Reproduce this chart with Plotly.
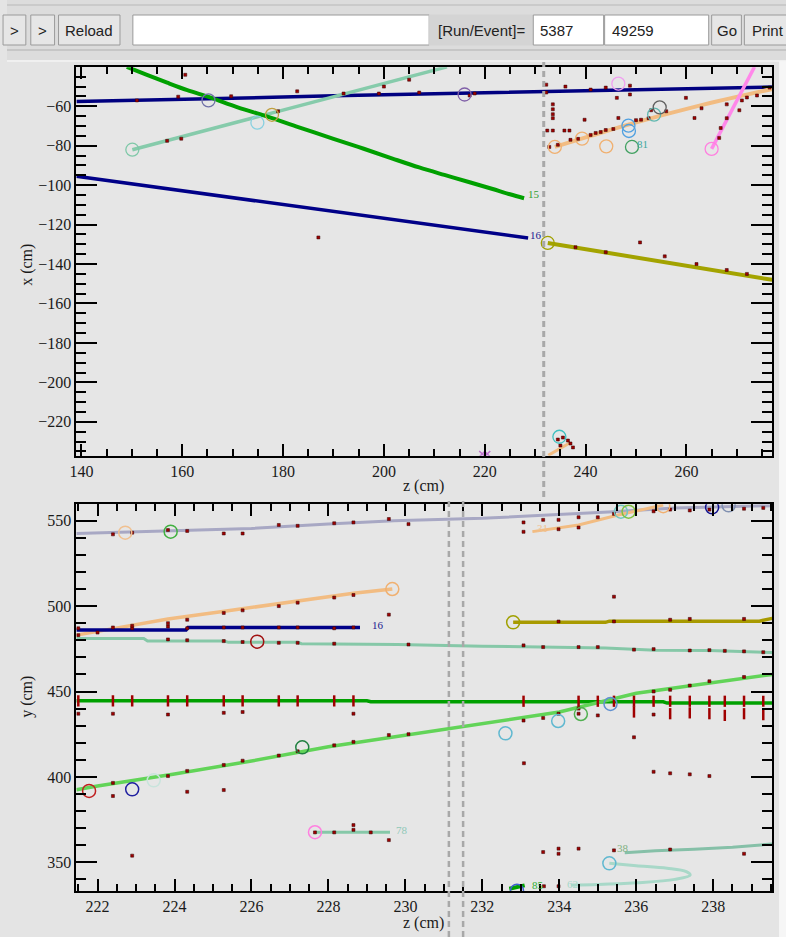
import plotly.graph_objects as go

W, H = 786, 937

# ---------------- top view (z vs x) ----------------
NAVY1_Z = [139, 152, 165, 178, 190, 203, 216, 232, 245, 260, 277]
NAVY1_X = [-57.6, -57.0, -56.2, -55.4, -54.6, -54.0, -53.3, -52.6, -51.8, -51.0, -50.2]
GREEN15_Z = [149, 153, 157, 161, 165.5, 171, 176.6, 183, 190, 196, 201.7, 207, 212, 217, 221.4, 225, 227.8]
GREEN15_X = [-40, -44, -48, -51.8, -55.5, -60.5, -65, -70.5, -76.5, -81.5, -86.5, -91, -94.8, -98.5, -101.8, -104.6, -106.6]
TEAL_Z = [150.1, 170, 192, 212.5]
TEAL_X = [-82, -68.6, -53.8, -40]
NAVY2_Z = [139, 160, 180, 200, 215, 228.6]
NAVY2_X = [-95.5, -102.8, -109.8, -116.8, -122.0, -126.8]
OLIVE_Z = [232.5, 255, 277]
OLIVE_X = [-129.3, -138.8, -148]
TAN_Z = [233.9, 241, 248.8, 262, 277]
TAN_X = [-80.6, -75, -69, -60, -51.2]
PINK_Z = [265.0, 273.5]
PINK_X = [-81.6, -40]
TANSMALL_Z = [232.6, 233.6, 234.8, 236.0, 237.0]
TANSMALL_X = [-237, -235.5, -233.5, -232.0, -230.5]

TOP_CIRC_Z = [150.1, 165.2, 174.9, 177.8, 216.0, 233.9, 239.3, 244.1, 248.5, 248.6,
              249.2, 253.6, 254.7, 246.5, 265.0, 232.5, 234.8]
TOP_CIRC_X = [-82, -57, -68.3, -64.3, -54, -80.6, -76.4, -80.3, -69.8, -72.5,
              -80.6, -64.2, -60.5, -48.5, -81.6, -129.3, -227.6]
TOP_CIRC_C = ['#7fc8a8', '#7070a8', '#88d0e0', '#c0a040', '#8060a8', '#f0b070', '#f0b070',
              '#f0b070', '#50a0e0', '#50a0e0', '#40a060', '#60b8b0', '#606060', '#f0a0f0',
              '#ff80e0', '#a0a000', '#40c0c0']

TOP_HIT_Z = [151, 160.6, 159.2, 169.7, 182.8, 199, 207, 218, 217,
             157, 159.8, 179, 192, 200, 205, 187,
             232.2, 232.2, 233.5, 233.5, 233.5, 233.5, 232.4, 233.5, 235.8, 236.8, 232.8,
             239.8, 234.5, 237, 238.5, 241, 242, 243, 244, 245.5, 246.2, 248.8, 248.8,
             246.5, 250, 251, 252.5, 253, 256, 259.9, 261.6, 263, 266.8, 268, 271, 272,
             274, 276.5, 250.8, 255.7, 262, 268, 272, 238, 244, 266.5, 268, 270.5,
             241, 236, 244, 234.5, 235.5, 236.5, 237, 237.5, 235]
TOP_HIT_X = [-57, -44, -55.1, -54.9, -52.4, -53.5, -53, -53.5, -54.5,
             -77.5, -76.4, -62.5, -53.5, -50, -46.5, -126.5,
             -49, -53, -59, -61.5, -64, -66, -72.3, -72.3, -72.3, -72.3, -80.6,
             -66.8, -79.5, -77, -76.5, -74.5, -73.5, -73, -72, -71.5, -55.7, -49.5, -54,
             -65.9, -67, -66.8, -66, -62, -62.5, -55.7, -65.9, -61, -71, -59, -57, -55.5,
             -54.5, -50.5, -129, -136.1, -140, -143, -145, -131.5, -134, -76, -66, -62,
             -51.5, -50, -50.5, -229, -228, -229.5, -231, -233, -232]
TOP_PURPLE_Z = [219.5, 220.5]
TOP_PURPLE_X = [-236.3, -236.3]

# ---------------- side view (z vs y) ----------------
LAV_Z = [221.45, 224, 226, 228, 229.7, 232, 234, 235.4, 237, 239.53]
LAV_Y = [542.5, 544, 545.5, 548, 550, 551.4, 553.5, 555.3, 557.5, 558.8]
TANB_Z = [221.45, 222.5, 223.83, 225.3, 226.71, 228.65, 229.66]
TANB_Y = [483, 487, 492.5, 497, 501.5, 507.5, 510]
NAVYB_Z = [221.45, 224.3, 224.35, 228.82]
NAVYB_Y = [486, 486, 487.5, 487.5]
TEALB_Z = [221.45, 223.2, 223.3, 225.3, 225.4, 227.2, 227.3, 229.8, 232, 235.2, 236.5, 237.9, 239.53]
TEALB_Y = [481, 481, 479.5, 479.5, 478.8, 478.8, 478, 477.5, 476.5, 475.5, 474.2, 474, 472.8]
OLIVEB_Z = [232.8, 235.2, 235.3, 239.2, 239.53]
OLIVEB_Y = [490.5, 490.5, 491.2, 491.2, 492.8]
DKGREEN_Z = [221.45, 229.0, 229.1, 236.7, 236.8, 239.53]
DKGREEN_Y = [444.6, 444.6, 444.0, 444.0, 443.2, 443.2]
LIME_Z = [221.45, 222, 224, 226, 228, 230, 232, 234, 236, 238, 239.53]
LIME_Y = [392.5, 394.7, 401.7, 409.3, 417.7, 424.5, 431.7, 438, 449, 455, 460]
T78_Z = [227.65, 229.6]
T78_Y = [367.6, 367.6]
T38_Z = [235.7, 236.5, 237.5, 238.5, 239.53]
T38_Y = [355.6, 356.8, 357.6, 358.8, 360.7]
TCURVE_Z = [235.3, 236.0, 236.8, 237.3, 237.4, 237.0, 236.0, 235.0, 234.3]
TCURVE_Y = [349.4, 348, 346.5, 344.5, 342.5, 340, 338, 337, 336.7]
T31_Z = [233.3, 234.5, 235.53, 236.7]
T31_Y = [543.6, 547.5, 553.3, 559.2]
T85_Z = [232.7, 233.1]
T85_Y = [334.5, 336.5]

BC_Z = [222.72, 223.9, 229.66, 226.15, 221.78, 222.9, 223.46, 227.32, 227.65, 232.6, 233.97,
        234.56, 235.33, 235.6, 235.8, 236.7, 237.97, 238.4, 232.8, 232.9, 235.3]
BC_Y = [543, 543.6, 510, 479.2, 391.8, 392.7, 398, 417.3, 367.6, 425.5, 432.7,
        436.8, 442.7, 555.3, 555.3, 558.5, 557.8, 559, 490.5, 333.4, 349.4]
BC_C = ['#f0c090', '#40b040', '#f0b070', '#a01010', '#c02020', '#2020a0', '#c8e4dc', '#208040',
        '#ff80e0', '#60b8d0', '#60b8d0', '#50b050', '#6090d0', '#70c8c0', '#80c040', '#f0b070',
        '#101090', '#8090b0', '#a0a000', '#4060d0', '#60b8d0']

DG_HIT_Z = [221.5, 222.4, 222.9, 223.83, 224.33, 225.28, 225.77, 226.71, 227.2, 228.15, 228.65,
            233.07, 234.5, 235.0, 235.42, 235.94, 236.45, 236.88, 237.39, 237.9, 238.3, 238.8, 239.3]
DG_HIT_Y = [444.5] * 11 + [444.3] * 12
DG_LOW_Z = [235.94, 236.88, 237.39, 237.9, 238.3, 238.8, 239.3]
DG_LOW_Y = [438, 437, 437.5, 437, 436, 437, 436.5]

BOT_HIT_Z = [222.4, 223.83, 224.33, 225.28, 225.77, 226.71, 227.2, 228.15, 228.65, 229.57, 230.08,
             233.07, 233.58, 233.98, 234.5, 236.45, 236.88, 237.39, 237.9, 238.8,
             223.83, 224.33, 225.28, 225.77, 226.71, 227.2, 228.15, 230.08, 233.07, 233.58, 234.5,
             235.0, 235.94, 236.45, 237.39, 237.9, 238.3, 238.8, 239.3,
             221.5, 222.4, 222.9, 223.83, 224.33, 225.28, 225.77, 226.71, 227.2, 228.15, 228.65,
             221.5, 222.0, 222.9, 223.83, 224.33, 225.28, 225.77, 226.71, 227.2, 228.15, 228.65, 229.57,
             222.4, 222.9, 223.83, 224.33, 225.28, 225.77, 226.71, 227.2, 228.15, 228.65, 229.57, 230.08,
             233.07, 233.58, 233.98, 234.5, 235.0, 235.42, 236.45, 236.88, 237.39, 237.9, 238.8, 239.3,
             233.98, 235.42, 236.88, 237.39, 238.8,
             222.9, 222.4, 224.33, 225.28, 228.65, 228.65, 229.57, 227.65, 228.15, 229.1, 233.08,
             235.94, 236.45, 236.88, 237.39, 237.9, 233.58, 233.98, 233.98, 234.5, 235.42, 236.88,
             238.8, 235.42, 233.07, 233.98, 234.5, 233.6, 233.98,
             221.5, 222.4, 223.83, 225.28, 225.77, 228.65, 234.5, 235.0, 236.45]
BOT_HIT_Y = [396.5, 400.5, 403.5, 407, 409.5, 412.5, 415, 418.5, 420.5, 424.5, 425,
             433, 434.5, 437, 440, 450, 451, 453.5, 456, 458.5,
             480.5, 480, 479.5, 479, 478.5, 478.5, 478, 477.5, 477, 476, 476,
             476, 474.5, 474.8, 474, 474.2, 473.8, 473.5, 473,
             487, 487.5, 487, 488, 487, 487.5, 487.5, 487.5, 487.5, 487, 487.5,
             483, 484.5, 488.5, 490, 492, 496, 497.5, 500, 502, 505, 506.5, 495,
             542, 543, 544.5, 544, 542.5, 542.5, 547.5, 547, 548.5, 549, 551, 548,
             549, 550.5, 550.5, 552, 552, 554, 555.5, 556.5, 556, 556.5, 557, 557.5,
             491, 491, 492, 492.5, 492.5,
             353.9, 388.8, 391.3, 392.3, 371.8, 369, 363, 367.5, 367.5, 367.5, 408,
             423.2, 403, 402.1, 401.5, 400.5, 356, 358, 355, 358, 357, 357.5,
             355, 505.5, 543.5, 545, 546, 336, 336,
             437, 437, 436.5, 437.5, 438, 437, 437, 436, 436.5]

# ---------------- page geometry helpers (layout only) ----------------
def fx(p):
    return p / W


def fy(p):
    return 1 - p / H


fig = go.Figure()


def track(z, v, color, width, ax, shape='linear'):
    fig.add_trace(go.Scatter(x=z, y=v, mode='lines', xaxis=ax[0], yaxis=ax[1],
                             line=dict(color=color, width=width, shape=shape),
                             hoverinfo='skip', showlegend=False))


TOP = ('x', 'y')
BOT = ('x2', 'y2')

track(NAVY1_Z, NAVY1_X, '#000080', 3.5, TOP)
track(TEAL_Z, TEAL_X, '#86cbab', 3.5, TOP)
track(GREEN15_Z, GREEN15_X, '#00a000', 4, TOP, 'spline')
track(NAVY2_Z, NAVY2_X, '#000088', 3.5, TOP)
track(OLIVE_Z, OLIVE_X, '#a3a300', 4, TOP)
track(TAN_Z, TAN_X, '#f2bc82', 4, TOP, 'spline')
track(PINK_Z, PINK_X, '#ff88ea', 3.5, TOP)
track(TANSMALL_Z, TANSMALL_X, '#f2bc82', 3, TOP)

HIT_MARKER = dict(symbol='square', size=3, color='#a00000', line=dict(width=0.5, color='#300000'))

fig.add_trace(go.Scatter(x=TOP_HIT_Z, y=TOP_HIT_X, mode='markers', xaxis='x', yaxis='y',
                         marker=HIT_MARKER, hoverinfo='skip', showlegend=False))
fig.add_trace(go.Scatter(x=TOP_PURPLE_Z, y=TOP_PURPLE_X, mode='markers', xaxis='x', yaxis='y',
                         marker=dict(symbol='x-thin-open', size=6, color='#c070d0',
                                     line=dict(width=1.5)),
                         hoverinfo='skip', showlegend=False))
fig.add_trace(go.Scatter(x=TOP_CIRC_Z, y=TOP_CIRC_X, mode='markers', xaxis='x', yaxis='y',
                         marker=dict(symbol='circle-open', size=13, color=TOP_CIRC_C,
                                     line=dict(width=1.3)),
                         hoverinfo='skip', showlegend=False))

track(LAV_Z, LAV_Y, '#a8a8c4', 3, BOT)
track(TANB_Z, TANB_Y, '#f2bc82', 3.5, BOT)
track(NAVYB_Z, NAVYB_Y, '#000088', 3.5, BOT)
track(TEALB_Z, TEALB_Y, '#86c8a8', 3, BOT)
track(OLIVEB_Z, OLIVEB_Y, '#a89a00', 3.5, BOT)
track(DKGREEN_Z, DKGREEN_Y, '#00a000', 3.5, BOT)
track(LIME_Z, LIME_Y, '#62d458', 3.5, BOT)
track(T78_Z, T78_Y, '#86c8a8', 3, BOT)
track(T38_Z, T38_Y, '#86c0a8', 3, BOT)
track(TCURVE_Z, TCURVE_Y, '#a8d8c8', 3, BOT, 'spline')
track(T31_Z, T31_Y, '#f2bc82', 3, BOT)
track(T85_Z, T85_Y, '#00a000', 4, BOT)

TALL = dict(symbol='line-ns', size=8, color='#a00000', line=dict(width=2.5, color='#a00000'))
fig.add_trace(go.Scatter(x=DG_HIT_Z, y=DG_HIT_Y, mode='markers', xaxis='x2', yaxis='y2',
                         marker=TALL, hoverinfo='skip', showlegend=False))
fig.add_trace(go.Scatter(x=DG_LOW_Z, y=DG_LOW_Y, mode='markers', xaxis='x2', yaxis='y2',
                         marker=TALL, hoverinfo='skip', showlegend=False))
fig.add_trace(go.Scatter(x=BOT_HIT_Z, y=BOT_HIT_Y, mode='markers', xaxis='x2', yaxis='y2',
                         marker=HIT_MARKER, hoverinfo='skip', showlegend=False))
fig.add_trace(go.Scatter(x=BC_Z, y=BC_Y, mode='markers', xaxis='x2', yaxis='y2',
                         marker=dict(symbol='circle-open', size=13, color=BC_C,
                                     line=dict(width=1.5)),
                         hoverinfo='skip', showlegend=False))

TICKFONT = dict(family='Liberation Serif', size=16, color='#1a1a1a')
common = dict(showgrid=False, zeroline=False, showline=True, linecolor='black', linewidth=2,
              mirror='allticks', ticks='inside', tickcolor='black', tickwidth=2,
              tickfont=TICKFONT)

shapes = []
ann = []

# toolbar
shapes.append(dict(type='rect', xref='paper', yref='paper', x0=0, x1=1, y0=fy(60), y1=1,
                   fillcolor='#dcdcdc', line=dict(width=0), layer='below'))
shapes.append(dict(type='line', xref='paper', yref='paper', x0=0, x1=1, y0=fy(5), y1=fy(5),
                   line=dict(color='#b8b8b8', width=1)))
shapes.append(dict(type='line', xref='paper', yref='paper', x0=0, x1=1, y0=fy(50), y1=fy(50),
                   line=dict(color='#b0b0b0', width=1)))
shapes.append(dict(type='line', xref='paper', yref='paper', x0=0, x1=1, y0=fy(61), y1=fy(61),
                   line=dict(color='#f4f4f4', width=1.5)))
buttons = [(-4, 19, '>', 'btn'), (24, 48, '>', 'btn'), (52, 114, 'Reload', 'btn'),
           (127, 426, '', 'white'), (426, 531, '[Run/Event]=', 'label'),
           (531, 602, '5387', 'white'), (603, 708, '49259', 'white'),
           (711, 741, 'Go', 'btn'), (744, 792, 'Print', 'btn')]
for x0, x1, txt, kind in buttons:
    fill = {'btn': '#e6e6e6', 'white': '#ffffff', 'label': '#d4d4d4'}[kind]
    border = '#9a9a9a' if kind != 'label' else '#d4d4d4'
    shapes.append(dict(type='rect', xref='paper', yref='paper', x0=fx(x0), x1=fx(x1),
                       y0=fy(45), y1=fy(15), fillcolor=fill, line=dict(color=border, width=1)))
    if txt:
        if kind == 'white':
            ann.append(dict(xref='paper', yref='paper', x=fx(x0 + 5), y=fy(30), text=txt,
                            showarrow=False, xanchor='left', yanchor='middle',
                            font=dict(family='Liberation Sans', size=15, color='#222')))
        else:
            ann.append(dict(xref='paper', yref='paper', x=fx((x0 + x1) / 2), y=fy(30), text=txt,
                            showarrow=False, xanchor='center', yanchor='middle',
                            font=dict(family='Liberation Sans', size=15, color='#222')))

# right white strip
shapes.append(dict(type='rect', xref='paper', yref='paper', x0=fx(779), x1=1, y0=0, y1=fy(61),
                   fillcolor='#f6f6f6', line=dict(width=0), layer='below'))

# dashed boundary lines
shapes.append(dict(type='line', xref='x', yref='paper', x0=231.7, x1=231.7, y0=fy(497), y1=fy(62),
                   line=dict(color='#a8a8a8', width=3, dash='6px,4px')))
for zz in [231.13, 231.5]:
    shapes.append(dict(type='line', xref='x2', yref='paper', x0=zz, x1=zz, y0=0, y1=fy(500),
                       line=dict(color='#a8a8a8', width=2.5, dash='6px,4px')))

# axis titles
TF = dict(family='Liberation Serif', size=16, color='#1a1a1a')
ann.append(dict(xref='paper', yref='paper', x=fx(420), y=fy(486), text='z (cm)', showarrow=False,
                xanchor='center', yanchor='middle', font=TF))
ann.append(dict(xref='paper', yref='paper', x=fx(420), y=fy(923), text='z (cm)', showarrow=False,
                xanchor='center', yanchor='middle', font=TF))
ann.append(dict(xref='paper', yref='paper', x=fx(20), y=fy(265), text='x (cm)', showarrow=False,
                xanchor='center', yanchor='middle', textangle=-90, font=TF))
ann.append(dict(xref='paper', yref='paper', x=fx(20), y=fy(697), text='y (cm)', showarrow=False,
                xanchor='center', yanchor='middle', textangle=-90, font=TF))

# track labels
LABELS = [('x', 'y', 229.8, -104.5, '15', '#30a030'), ('x', 'y', 230.2, -125.5, '16', '#202090'),
          ('x', 'y', 251.2, -79.2, '81', '#40a8a0'),
          ('x2', 'y2', 229.3, 489.0, '16', '#202090'), ('x2', 'y2', 229.9, 369.0, '78', '#90c8b8'),
          ('x2', 'y2', 235.65, 358.2, '38', '#80b080'), ('x2', 'y2', 233.55, 545.5, '31', '#f0c090'),
          ('x2', 'y2', 233.45, 337.0, '85', '#30b030'), ('x2', 'y2', 234.35, 337.5, '62', '#a8d8c8')]
for xr, yr, zx, vy, t, c in LABELS:
    ann.append(dict(xref=xr, yref=yr, x=zx, y=vy, text=t, showarrow=False, xanchor='center',
                    font=dict(family='Liberation Serif', size=11, color=c)))

fig.update_layout(
    width=W, height=H, margin=dict(l=0, r=0, t=0, b=0),
    paper_bgcolor='#e4e4e4', plot_bgcolor='#e6e6e6', showlegend=False,
    xaxis=dict(domain=[fx(70), fx(772)], range=[139, 277], anchor='y', tick0=140, dtick=20,
               ticklen=12, minor=dict(dtick=5, ticklen=7, ticks='inside', tickcolor='black',
                                      tickwidth=2), **common),
    yaxis=dict(domain=[fy(455.7), fy(67.3)], range=[-237.2, -40.2], anchor='x', tick0=-240,
               dtick=20, ticklen=21, minor=dict(dtick=5, ticklen=10, ticks='inside',
                                                tickcolor='black', tickwidth=2), **common),
    xaxis2=dict(domain=[fx(70), fx(772)], range=[221.45, 239.53], anchor='y2', tick0=222, dtick=2,
                ticklen=12, minor=dict(dtick=0.5, ticklen=7, ticks='inside', tickcolor='black',
                                       tickwidth=2), **common),
    yaxis2=dict(domain=[fy(891), fy(504.3)], range=[333.2, 559.6], anchor='x2', tick0=350,
                dtick=50, ticklen=21, minor=dict(dtick=10, ticklen=10, ticks='inside',
                                                 tickcolor='black', tickwidth=2), **common),
    shapes=shapes, annotations=ann,
)

fig.write_html('out.html')
